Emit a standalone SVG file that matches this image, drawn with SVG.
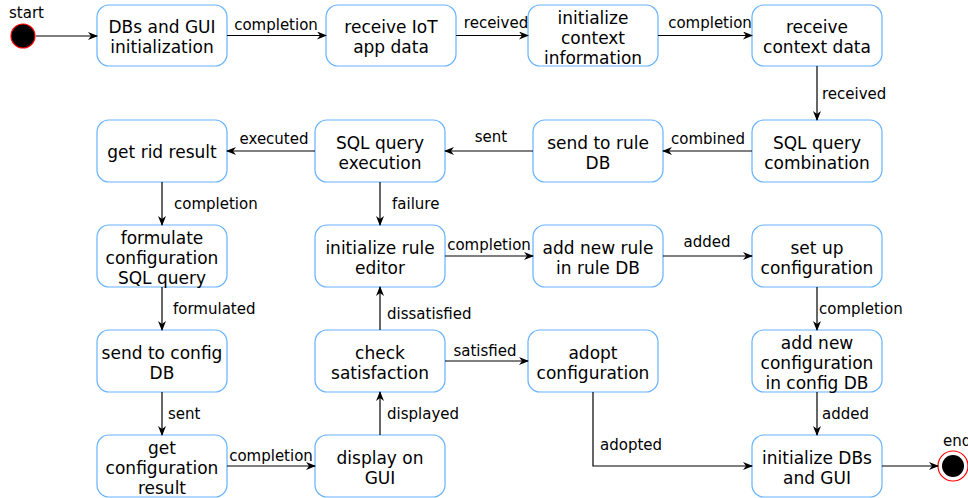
<svg xmlns="http://www.w3.org/2000/svg" width="968" height="498" viewBox="0 0 968 498">
<defs>
<style>
.box{fill:#fff;stroke:#66b2ff;stroke-width:1.2}
.t{font-family:"DejaVu Sans",Verdana,sans-serif;font-size:17px;fill:#000;text-anchor:middle}
.l{font-family:"DejaVu Sans",Verdana,sans-serif;font-size:15px;fill:#000}
.m{text-anchor:middle}
.e{fill:none;stroke:#000;stroke-width:1.2;marker-end:url(#a)}
</style>
<marker id="a" viewBox="0 0 10 8" refX="9" refY="4" markerWidth="10" markerHeight="8" markerUnits="userSpaceOnUse" orient="auto">
<path d="M0,0 L10,4 L0,8 L3,4 z" fill="#000"/>
</marker>
</defs>
<rect width="968" height="498" fill="#fff"/>

<g id="start"><circle cx="23" cy="36" r="12" fill="#000" stroke="#ff0000" stroke-width="1.2"/><text class="l" x="9" y="18">start</text></g>
<g id="end"><circle cx="953" cy="466" r="15" fill="#fff" stroke="#ff0000" stroke-width="1.2"/><circle cx="953" cy="466" r="11" fill="#000"/><text class="l" x="943" y="446">end</text></g>

<g id="n1"><rect class="box" x="97" y="5" width="130" height="61" rx="12"/><text class="t" x="162" y="33">DBs and GUI</text><text class="t" x="162" y="53">initialization</text></g>
<g id="n2"><rect class="box" x="326" y="5" width="130" height="61" rx="12"/><text class="t" x="391" y="33">receive IoT</text><text class="t" x="391" y="53">app data</text></g>
<g id="n3"><rect class="box" x="528" y="5" width="130" height="61" rx="12"/><text class="t" x="593" y="24">initialize</text><text class="t" x="593" y="44">context</text><text class="t" x="593" y="64">information</text></g>
<g id="n4"><rect class="box" x="752" y="5" width="130" height="61" rx="12"/><text class="t" x="817" y="33">receive</text><text class="t" x="817" y="53">context data</text></g>

<g id="n5"><rect class="box" x="97" y="120" width="130" height="62" rx="12"/><text class="t" x="162" y="158">get rid result</text></g>
<g id="n6"><rect class="box" x="315" y="120" width="130" height="62" rx="12"/><text class="t" x="380" y="149">SQL query</text><text class="t" x="380" y="169">execution</text></g>
<g id="n7"><rect class="box" x="533" y="120" width="130" height="62" rx="12"/><text class="t" x="598" y="149">send to rule</text><text class="t" x="598" y="169">DB</text></g>
<g id="n8"><rect class="box" x="752" y="120" width="130" height="62" rx="12"/><text class="t" x="817" y="149">SQL query</text><text class="t" x="817" y="169">combination</text></g>

<g id="n9"><rect class="box" x="97" y="225" width="130" height="62" rx="12"/><text class="t" x="162" y="244">formulate</text><text class="t" x="162" y="264">configuration</text><text class="t" x="162" y="284">SQL query</text></g>
<g id="n10"><rect class="box" x="315" y="225" width="130" height="62" rx="12"/><text class="t" x="380" y="254">initialize rule</text><text class="t" x="380" y="274">editor</text></g>
<g id="n11"><rect class="box" x="533" y="225" width="130" height="62" rx="12"/><text class="t" x="598" y="254">add new rule</text><text class="t" x="598" y="274">in rule DB</text></g>
<g id="n12"><rect class="box" x="752" y="225" width="130" height="62" rx="12"/><text class="t" x="817" y="254">set up</text><text class="t" x="817" y="274">configuration</text></g>

<g id="n13"><rect class="box" x="97" y="330" width="130" height="62" rx="12"/><text class="t" x="162" y="359">send to config</text><text class="t" x="162" y="379">DB</text></g>
<g id="n14"><rect class="box" x="315" y="330" width="130" height="62" rx="12"/><text class="t" x="380" y="359">check</text><text class="t" x="380" y="379">satisfaction</text></g>
<g id="n15"><rect class="box" x="528" y="330" width="130" height="62" rx="12"/><text class="t" x="593" y="359">adopt</text><text class="t" x="593" y="379">configuration</text></g>
<g id="n16"><rect class="box" x="752" y="330" width="130" height="62" rx="12"/><text class="t" x="817" y="349">add new</text><text class="t" x="817" y="369">configuration</text><text class="t" x="817" y="389">in config DB</text></g>

<g id="n17"><rect class="box" x="97" y="435" width="130" height="62" rx="12"/><text class="t" x="162" y="454">get</text><text class="t" x="162" y="474">configuration</text><text class="t" x="162" y="494">result</text></g>
<g id="n18"><rect class="box" x="315" y="435" width="130" height="62" rx="12"/><text class="t" x="380" y="464">display on</text><text class="t" x="380" y="484">GUI</text></g>
<g id="n19"><rect class="box" x="752" y="435" width="130" height="62" rx="12"/><text class="t" x="817" y="464">initialize DBs</text><text class="t" x="817" y="484">and GUI</text></g>

<g id="edges">
<path class="e" d="M36,36 H97"/>
<path class="e" d="M227,35.5 H326"/><text class="l m" x="276" y="30">completion</text>
<path class="e" d="M456,35.5 H528"/><text class="l m" x="496" y="28">received</text>
<path class="e" d="M658,35.5 H752"/><text class="l m" x="710" y="28">completion</text>
<path class="e" d="M817,66 V120"/><text class="l" x="822" y="99">received</text>
<path class="e" d="M752,151 H663"/><text class="l m" x="708" y="144">combined</text>
<path class="e" d="M533,151 H445"/><text class="l m" x="491" y="142">sent</text>
<path class="e" d="M315,151 H227"/><text class="l m" x="274" y="144">executed</text>
<path class="e" d="M162,182 V225"/><text class="l" x="174" y="209">completion</text>
<path class="e" d="M380,182 V225"/><text class="l" x="392" y="209">failure</text>
<path class="e" d="M445,256 H533"/><text class="l m" x="489" y="250">completion</text>
<path class="e" d="M663,256 H752"/><text class="l m" x="707" y="247">added</text>
<path class="e" d="M162,287 V330"/><text class="l" x="173" y="314">formulated</text>
<path class="e" d="M380,330 V287"/><text class="l" x="387" y="319">dissatisfied</text>
<path class="e" d="M817,287 V330"/><text class="l" x="819" y="314">completion</text>
<path class="e" d="M445,361 H528"/><text class="l m" x="485" y="356">satisfied</text>
<path class="e" d="M162,392 V435"/><text class="l" x="168" y="419">sent</text>
<path class="e" d="M380,435 V392"/><text class="l" x="387" y="419">displayed</text>
<path class="e" d="M817,392 V435"/><text class="l" x="822" y="419">added</text>
<path class="e" d="M227,466 H315"/><text class="l m" x="271" y="461">completion</text>
<path class="e" d="M593,392 V466 H752"/><text class="l" x="600" y="450">adopted</text>
<path class="e" d="M882,466 H938"/>
</g>
</svg>
